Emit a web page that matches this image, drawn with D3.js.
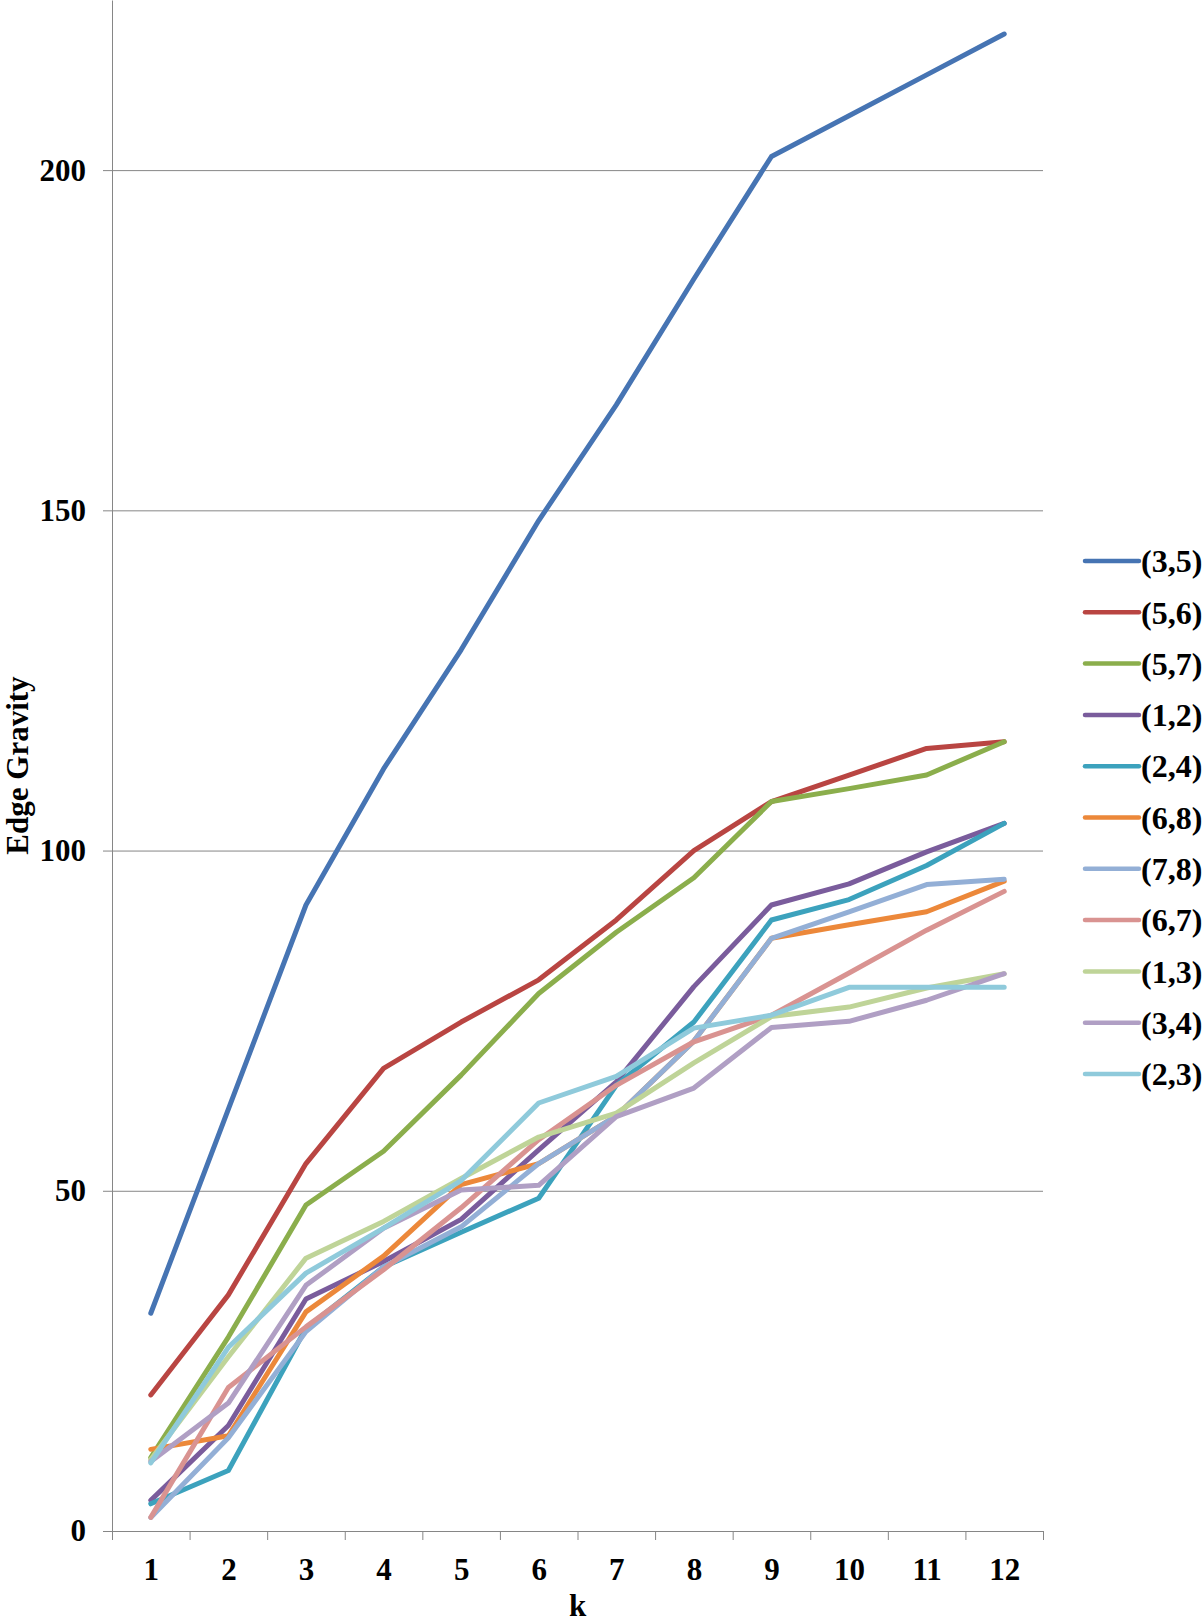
<!DOCTYPE html>
<html><head><meta charset="utf-8">
<script src="https://cdn.jsdelivr.net/npm/d3@7"></script>
<style>
html,body{margin:0;padding:0;background:#fff;}
svg{display:block;background:#fff;}
text{font-family:"Liberation Serif","Times New Roman",serif;font-weight:bold;fill:#000;}
</style>
</head><body>
<svg id="chart" width="1204" height="1624"></svg>
<script>
// ---- data ----
const categories = ["1","2","3","4","5","6","7","8","9","10","11","12"];
const yTickValues = [0, 50, 100, 150, 200];
const seriesNames = ["(3,5)","(5,6)","(5,7)","(1,2)","(2,4)","(6,8)","(7,8)","(6,7)","(1,3)","(3,4)","(2,3)"];
const s35 = [32, 62, 92, 112, 129.5, 148.5, 165.5, 184, 202, 208, 214, 220];
const s56 = [20, 34.7, 54, 68, 74.8, 81, 89.8, 100, 107.2, 111.1, 115, 116];
const s57 = [10.8, 28.5, 47.9, 55.8, 67, 79, 88, 96, 107.2, 109.1, 111.1, 116];
const s12 = [4.5, 15.5, 34.1, 39.6, 45.8, 56, 66, 80, 92, 95.1, 99.8, 104];
const s24 = [4, 8.9, 29.8, 38.8, 43.9, 48.9, 65.5, 74.8, 89.8, 92.8, 97.8, 104];
const s68 = [12, 14, 32.2, 40.4, 50.9, 54, 61, 72, 87.1, 89.1, 91, 95.5];
const s78 = [2, 13.7, 29.3, 38.8, 44.7, 54, 61, 72, 87.1, 91, 95, 95.8];
const s67 = [2, 21.1, 30, 38.4, 47.5, 57.5, 65.5, 71.9, 75.8, 82, 88.3, 94];
const s13 = [10.5, 25.6, 40.1, 45.5, 51.8, 57.9, 61.4, 68.8, 75.6, 77, 79.8, 81.9];
const s34 = [10.2, 18.8, 36.1, 44.5, 50.1, 50.8, 60.9, 65.1, 74, 74.9, 78, 81.9];
const s23 = [10, 27, 37.9, 44.5, 51.5, 62.9, 66.8, 73.9, 75.8, 79.9, 79.9, 79.9];
const seriesValues = [s35, s56, s57, s12, s24, s68, s78, s67, s13, s34, s23];
const seriesColors = ["#4674B3","#B94542","#8BAE4C","#7A5C9C","#3CA2BD","#EC883A","#93AFD6","#D99391","#BFD498","#B09FC4","#8FCADB"];

// ---- layout ----
const svg = d3.select("#chart");
const plotL = 112, plotR = 1043, plotT = 0, plotB = 1531;
const axisColor = "#868686";
const fontSize = 31;

const x = d3.scaleLinear().domain([0.5, categories.length + 0.5]).range([plotL, plotR]);
const y = d3.scaleLinear().domain([0, 225]).range([plotB, plotT]);

// gridlines
const grid = svg.append("g").attr("transform", `translate(${plotL},0)`)
  .call(d3.axisLeft(y).tickValues(yTickValues.filter(v => v > 0)).tickSize(-(plotR - plotL)).tickFormat(""));
grid.select(".domain").remove();
grid.selectAll(".tick line").attr("stroke", axisColor).attr("stroke-width", 1);

// y axis
const yAxis = svg.append("g").attr("transform", `translate(${plotL},0)`)
  .call(d3.axisLeft(y).tickValues(yTickValues).tickSize(9).tickSizeOuter(0).tickPadding(17));
yAxis.select(".domain").attr("stroke", axisColor);
yAxis.selectAll(".tick line").attr("stroke", axisColor);
yAxis.selectAll(".tick text").attr("font-size", fontSize).attr("font-family", null);

// x axis (tick marks at category boundaries)
const xTicks = svg.append("g").attr("transform", `translate(0,${plotB})`)
  .call(d3.axisBottom(x).tickValues(d3.range(0.5, categories.length + 1, 1)).tickSize(9).tickSizeOuter(0).tickFormat(""));
xTicks.select(".domain").attr("stroke", axisColor);
xTicks.selectAll(".tick line").attr("stroke", axisColor);

// x axis labels (category centers)
const xLabels = svg.append("g").attr("transform", `translate(0,${plotB})`)
  .call(d3.axisBottom(x).tickValues(d3.range(1, categories.length + 1)).tickSize(0).tickFormat(d => categories[d - 1]));
xLabels.select(".domain").remove();
xLabels.selectAll(".tick text").attr("y", 49).attr("dy", 0).attr("font-size", fontSize).attr("font-family", null);

// lines
const line = d3.line().x((d, i) => x(i + 1)).y(d => y(d));
svg.append("g").selectAll("path").data(seriesValues).join("path")
  .attr("d", line)
  .attr("fill", "none")
  .attr("stroke", (d, i) => seriesColors[i])
  .attr("stroke-width", 5)
  .attr("stroke-linejoin", "round")
  .attr("stroke-linecap", "round");

// axis titles
svg.append("text").attr("transform", `translate(28,${(plotT + plotB) / 2}) rotate(-90)`)
  .attr("text-anchor", "middle").attr("font-size", fontSize).text("Edge Gravity");
svg.append("text").attr("x", (plotL + plotR) / 2).attr("y", 1616)
  .attr("text-anchor", "middle").attr("font-size", fontSize).text("k");

// legend
const legend = svg.append("g").selectAll("g").data(seriesNames).join("g")
  .attr("transform", (d, i) => `translate(0,${561 + i * 51.3})`);
legend.append("line").attr("x1", 1085).attr("x2", 1139).attr("y1", 0).attr("y2", 0)
  .attr("stroke", (d, i) => seriesColors[i]).attr("stroke-width", 4.5).attr("stroke-linecap", "round");
legend.append("text").attr("x", 1141).attr("dy", "0.35em").attr("font-size", 32).text(d => d);
</script>
</body></html>
